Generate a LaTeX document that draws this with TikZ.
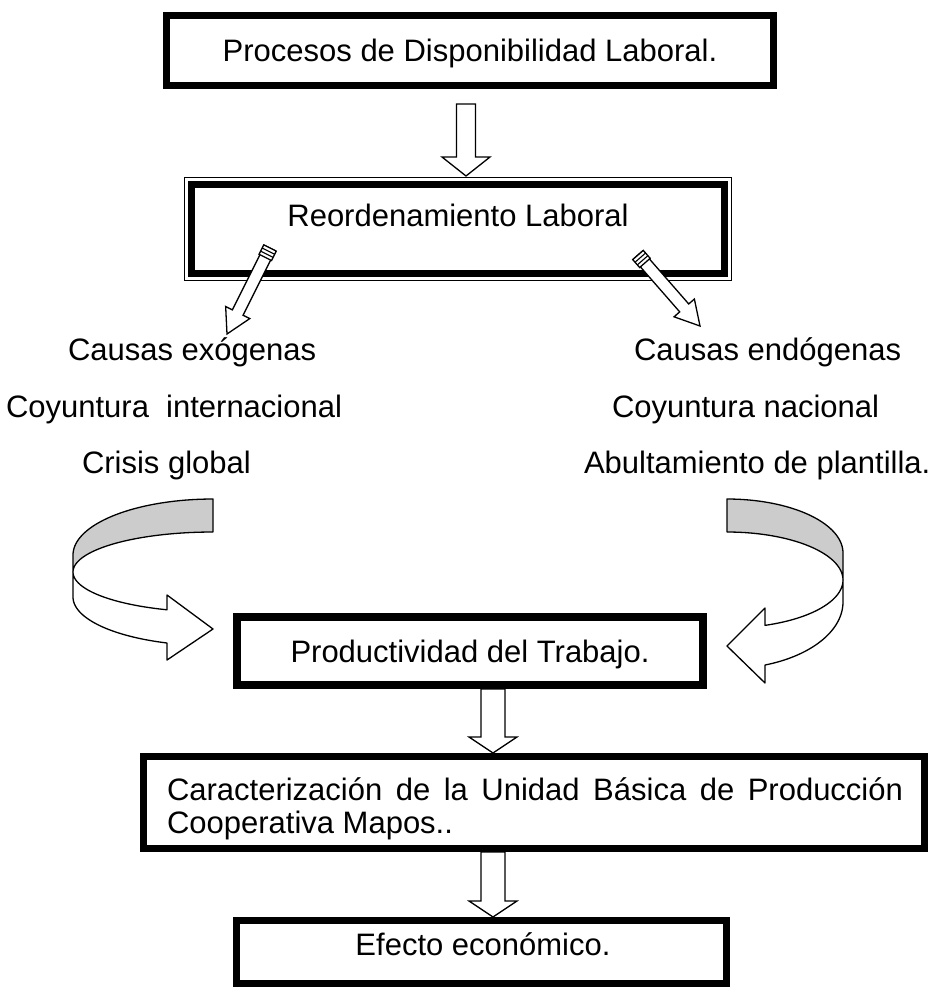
\documentclass[tikz,border=0pt]{standalone}
\usepackage{fontspec}
\setmainfont{Liberation Sans}
\usetikzlibrary{calc}
\definecolor{ribbongray}{RGB}{204,204,204}
\tikzset{
  box/.style={draw=black, line width=7pt, outer sep=0pt, inner sep=0pt},
  lbl/.style={font=\fontsize{31}{33}\selectfont, inner sep=0pt, outer sep=0pt},
  blockarrow/.style={draw=black, fill=white, line width=1.3pt, line join=miter},
  ribbonline/.style={draw=black, line width=1.3pt, line join=round},
}
% #1 tail, #2 tip, #3 shaft half width, #4 head half width, #5 head length
\newcommand\blkarrow[5]{%
  \coordinate (hb) at ($(#2)!#5!(#1)$);
  \filldraw[blockarrow] ($(#1)!#3!90:(#2)$) -- ($(hb)!#3!90:(#2)$) -- ($(hb)!#4!90:(#2)$) -- (#2)
     -- ($(hb)!#4!-90:(#2)$) -- ($(hb)!#3!-90:(#2)$) -- ($(#1)!#3!-90:(#2)$) -- cycle;}
% tail cap with stripes
\newcommand\tailcap[2]{%
  \coordinate (tc1) at ($(#1)!3.5pt!(#2)$);
  \coordinate (tc2) at ($(#1)!7pt!(#2)$);
  \coordinate (tc3) at ($(#1)!10.5pt!(#2)$);
  \filldraw[blockarrow] ($(#1)!7pt!90:(#2)$) -- ($(tc3)!7pt!90:(#2)$) -- ($(tc3)!7pt!-90:(#2)$) -- ($(#1)!7pt!-90:(#2)$) -- cycle;
  \draw[line width=1.1pt] ($(tc1)!7pt!90:(#2)$) -- ($(tc1)!7pt!-90:(#2)$);
  \draw[line width=1.1pt] ($(tc2)!7pt!90:(#2)$) -- ($(tc2)!7pt!-90:(#2)$);}
\begin{document}
\begin{tikzpicture}[x=1pt,y=-1pt]
\useasboundingbox (0,0) rectangle (936,989);

% boxes
\node[box, minimum width=607, minimum height=70] (b1) at (470,50.5) {};
\node[lbl, anchor=base] (t1) at (470,61) {Procesos de Disponibilidad Laboral.};

\node[box, minimum width=533, minimum height=89] (b2) at (458,229) {};
\draw[line width=1.4pt] ($(b2.north west)+(-7,-7)$) rectangle ($(b2.south east)+(7,7)$);
\node[lbl, anchor=base] (t2) at (458,226) {Reordenamiento Laboral};

\node[box, line width=8pt, minimum width=466, minimum height=68] (b3) at (470,651) {};
\node[lbl, anchor=base] (t3) at (470,662) {Productividad del Trabajo.};

\node[box, minimum width=781, minimum height=92] (b4) at (534,802.5) {};
\node[lbl, anchor=base west, align=left] (t4) at (167,833)
  {\makebox[736pt][s]{Caracterización de la Unidad Básica de Producción}\\Cooperativa Mapos..};

\node[box, minimum width=490, minimum height=63] (b5) at (481.5,952) {};
\node[lbl, anchor=base] (t5) at (483,955) {Efecto económico.};

% side texts
\node[lbl, anchor=base west] (l1) at (68,360) {Causas exógenas};
\node[lbl, anchor=base west] (l2) at (6,417) {Coyuntura\ \ internacional};
\node[lbl, anchor=base west] (l3) at (82,473) {Crisis global};
\node[lbl, anchor=base west] (r1) at (634,360) {Causas endógenas};
\node[lbl, anchor=base west] (r2) at (612,417) {Coyuntura nacional};
\node[lbl, anchor=base west] (r3) at (584,473) {Abultamiento de plantilla.};

% vertical block arrows
\coordinate (a1s) at ($(b1.south)+(-4,18.5)$);
\coordinate (a1e) at ($(b2.north)+(8,-8.5)$);
\blkarrow{a1s}{a1e}{9.5pt}{24pt}{19pt}
\coordinate (a2s) at ($(b3.south)+(23,4)$);
\coordinate (a2e) at ($(b4.north)+(-41,-3.5)$);
\blkarrow{a2s}{a2e}{12pt}{24pt}{16pt}
\coordinate (a3s) at ($(b4.south)+(-41,3.5)$);
\coordinate (a3e) at ($(b5.north)+(11.5,-3.5)$);
\blkarrow{a3s}{a3e}{12pt}{24pt}{16pt}

% diagonal arrows
\coordinate (lt) at (270,248);
\coordinate (lp) at (227,334);
\blkarrow{lt}{lp}{6pt}{13.5pt}{24pt}
\tailcap{lt}{lp}
\coordinate (rt) at (638,255);
\coordinate (rp) at (700,326);
\blkarrow{rt}{rp}{6pt}{13.5pt}{24pt}
\tailcap{rt}{rp}

% left curved arrow
\filldraw[ribbonline, fill=ribbongray]
  plot[domain=180:270, samples=40, variable=\t] ({213+140*cos(\t)},{555+56*sin(\t)})
  -- (213,532)
  -- plot[domain=270:180, samples=40, variable=\t] ({213+140*cos(\t)},{572+40*sin(\t)})
  -- cycle;
\filldraw[ribbonline, fill=white]
  plot[domain=180:109.18, samples=40, variable=\t] ({213+140*cos(\t)},{572+40*sin(\t)})
  -- (167,595) -- (213,629) -- (167,660)
  -- plot[domain=109.18:180, samples=40, variable=\t] ({213+140*cos(\t)},{597+48.7*sin(\t)})
  -- cycle;

% right curved arrow
\filldraw[ribbonline, fill=ribbongray]
  plot[domain=360:270, samples=40, variable=\t] ({727+116*cos(\t)},{553+54*sin(\t)})
  -- (727,532)
  -- plot[domain=270:360, samples=40, variable=\t] ({727+116*cos(\t)},{580+48*sin(\t)})
  -- cycle;
\filldraw[ribbonline, fill=white]
  plot[domain=0:70.88, samples=40, variable=\t] ({727+116*cos(\t)},{580+48*sin(\t)})
  -- (765,608) -- (727,646) -- (765,683)
  -- plot[domain=70.88:0, samples=40, variable=\t] ({727+116*cos(\t)},{602+66.7*sin(\t)})
  -- cycle;
\end{tikzpicture}
\end{document}
